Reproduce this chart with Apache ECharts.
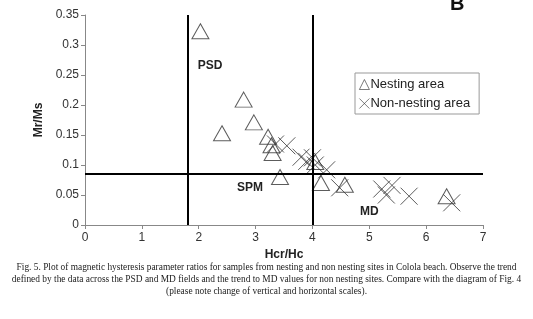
<!DOCTYPE html>
<html><head><meta charset="utf-8">
<script src="https://cdn.jsdelivr.net/npm/echarts@6/dist/echarts.min.js"></script>
<style>html,body{margin:0;padding:0;background:#fff}#c{width:533px;height:319px}</style>
</head><body><div id="c"></div>
<script>
const nestingX = [2.03, 2.79, 2.41, 2.97, 3.22, 3.28, 3.30, 3.43, 4.05, 4.15, 4.57, 6.36];
const nestingY = [0.323, 0.209, 0.153, 0.171, 0.147, 0.133, 0.120, 0.080, 0.105, 0.070, 0.067, 0.048];
const nonNestX = [3.35, 3.55, 3.80, 3.90, 4.00, 4.05, 4.25, 4.48, 5.22, 5.30, 5.40, 5.70, 6.45];
const nonNestY = [0.135, 0.132, 0.113, 0.106, 0.112, 0.100, 0.092, 0.062, 0.060, 0.050, 0.066, 0.048, 0.037];
const hcrBounds = [1.8, 4.0];
const mrBound = 0.085;
const xTicks = [0, 1, 2, 3, 4, 5, 6, 7];
const yTicks = [0, 0.05, 0.1, 0.15, 0.2, 0.25, 0.3, 0.35];
const fieldLabels = [['PSD', 2.2, 0.265], ['SPM', 2.9, 0.062], ['MD', 5.0, 0.023]];
const caption = [
  'Fig. 5. Plot of magnetic hysteresis parameter ratios for samples from nesting and non nesting sites in Colola beach. Observe the trend',
  'defined by the data across the PSD and MD fields and the trend to MD values for non nesting sites. Compare with the diagram of Fig. 4',
  '(please note change of vertical and horizontal scales).'
];

const zip = (a, b) => a.map((v, i) => [v, b[i]]);
const crossPath = 'path://M0,0L10,10M10,0L0,10';
const chart = echarts.init(document.getElementById('c'));
chart.setOption({
  animation: false,
  backgroundColor: '#fff',
  grid: {left: 85, right: 50, top: 15, bottom: 94},
  xAxis: {
    type: 'value', min: 0, max: 7, interval: 1,
    name: 'Hcr/Hc', nameLocation: 'middle', nameGap: 20,
    nameTextStyle: {fontFamily: 'Liberation Sans', fontWeight: 'bold', fontSize: 12, color: '#222'},
    axisLine: {lineStyle: {color: '#888', width: 1}},
    axisTick: {show: true, length: 4, lineStyle: {color: '#888'}},
    axisLabel: {fontFamily: 'Liberation Sans', fontSize: 12, color: '#333', margin: 7},
    splitLine: {show: false}
  },
  yAxis: {
    type: 'value', min: 0, max: 0.35, interval: 0.05,
    name: 'Mr/Ms', nameLocation: 'middle', nameGap: 40, nameRotate: 90,
    nameTextStyle: {fontFamily: 'Liberation Sans', fontWeight: 'bold', fontSize: 12, color: '#222'},
    axisLine: {show: true, lineStyle: {color: '#888', width: 1}},
    axisTick: {show: true, length: 4, lineStyle: {color: '#888'}},
    axisLabel: {fontFamily: 'Liberation Sans', fontSize: 12, color: '#333', margin: 6,
      formatter: v => String(+v.toFixed(2))},
    splitLine: {show: false}
  },
  legend: {
    left: 355, top: 73, orient: 'vertical', itemGap: 6,
    borderColor: '#999', borderWidth: 1, padding: [5, 9, 4, 4],
    itemWidth: 10, itemHeight: 10,
    textStyle: {fontFamily: 'Liberation Sans', fontSize: 13, color: '#222', padding: [0, 0, 0, -4]},
    data: [
      {name: 'Nesting area', itemStyle: {borderWidth: 0.8}},
      {name: 'Non-nesting area', itemStyle: {borderWidth: 0.8}}
    ]
  },
  series: [
    {
      name: 'Nesting area', type: 'scatter', symbol: 'triangle', symbolSize: [17, 15],
      itemStyle: {color: 'rgba(255,255,255,0)', borderColor: '#333', borderWidth: 1},
      data: zip(nestingX, nestingY), z: 3
    },
    {
      name: 'Non-nesting area', type: 'scatter', symbol: crossPath, symbolSize: [17, 17],
      itemStyle: {color: 'rgba(255,255,255,0)', borderColor: '#333', borderWidth: 1},
      data: zip(nonNestX, nonNestY), z: 3
    },
    {
      name: 'fields', type: 'line', data: [], silent: true,
      markLine: {
        symbol: 'none', silent: true, label: {show: false},
        lineStyle: {color: '#000', width: 2, type: 'solid'},
        data: [
          [{coord: [hcrBounds[0], 0]}, {coord: [hcrBounds[0], 0.35]}],
          [{coord: [hcrBounds[1], 0]}, {coord: [hcrBounds[1], 0.35]}],
          [{coord: [0, mrBound]}, {coord: [7, mrBound]}]
        ]
      },
      markPoint: {
        symbol: 'circle', symbolSize: 0, silent: true,
        label: {show: true, fontFamily: 'Liberation Sans', fontWeight: 'bold', fontSize: 12, color: '#222'},
        data: fieldLabels.map(f => ({coord: [f[1], f[2]], value: f[0], label: {formatter: f[0]}}))
      }
    }
  ],
  graphic: [
    {type: 'text', x: 450, y: -6, style: {text: 'B', fontFamily: 'Liberation Sans', fontWeight: 'bold', fontSize: 20, fill: '#111'}},
    {type: 'text', x: 266.5, y: 262, style: {text: caption.join('\n'), fontFamily: 'Liberation Serif', fontSize: 9.4, lineHeight: 12, fill: '#222', align: 'center', verticalAlign: 'top'}}
  ]
});
</script></body></html>
